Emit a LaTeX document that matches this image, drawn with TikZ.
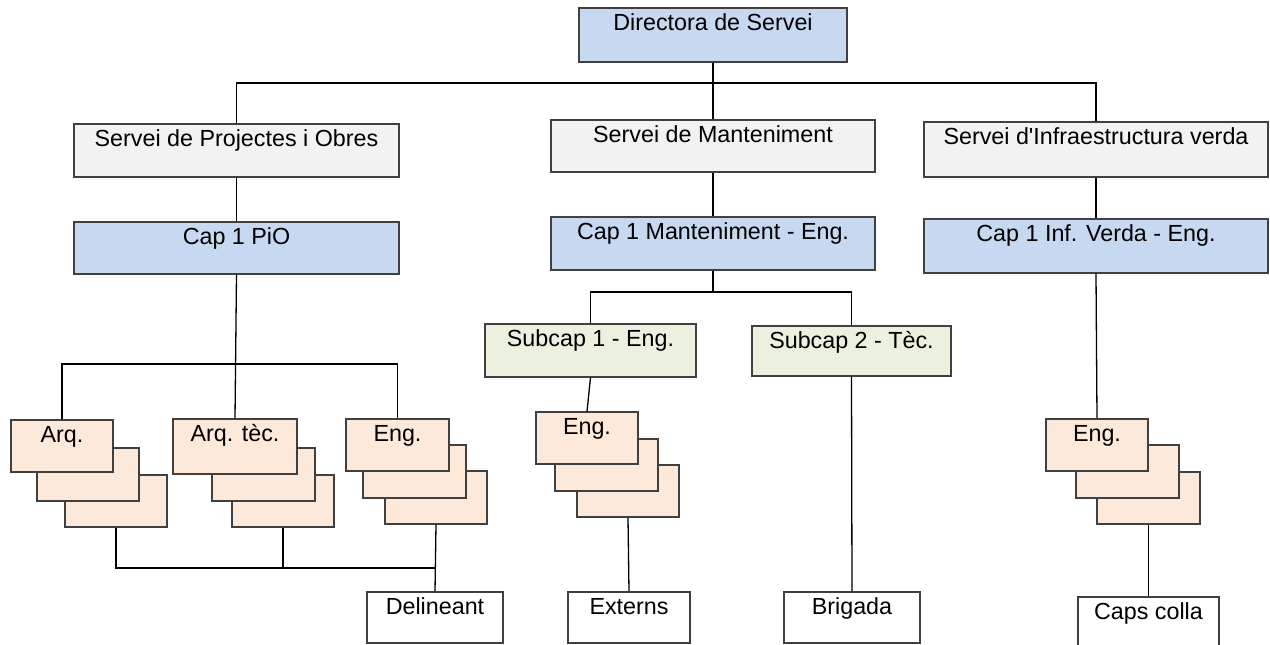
\documentclass[tikz,border=0pt]{standalone}
\usepackage{fontspec}
\setmainfont{Liberation Sans}
\usetikzlibrary{fit,calc}
\definecolor{bluefill}{RGB}{198,217,240}
\definecolor{greyfill}{RGB}{242,242,242}
\definecolor{greenfill}{RGB}{235,241,222}
\definecolor{peachfill}{RGB}{253,233,217}
\definecolor{edgecol}{RGB}{64,64,64}
\tikzset{
  boxbase/.style={draw=edgecol, line width=1.1pt, inner sep=0pt, rectangle},
  bluebox/.style={boxbase, fill=bluefill},
  greybox/.style={boxbase, fill=greyfill},
  greenbox/.style={boxbase, fill=greenfill},
  peachbox/.style={boxbase, fill=peachfill},
  whitebox/.style={boxbase, fill=white},
  lab/.style={anchor=base, inner sep=0pt, font=\fontsize{23.3}{28}\selectfont},
  conn/.style={draw=black, line width=1.3pt}
}
\newcommand\orgbox[7]{%
  \node[#6, fit={(#2,#3) (#4,#5)}] (#1) {};
  \node[lab] (#1-t) at ($(#1.north)+(0,23)$) {#7};}
\begin{document}
\begin{tikzpicture}[x=1pt,y=-1pt]
\useasboundingbox (0,0) rectangle (1270,645);
\clip (0,0) rectangle (1270,645);
\fill[white] (0,0) rectangle (1270,645);

% top level
\orgbox{dir}{579}{8}{847}{62}{bluebox}{Directora de Servei}
\orgbox{spo}{74}{124}{399}{177}{greybox}{Servei de Projectes i Obres}
\orgbox{sman}{551}{120}{875}{172}{greybox}{Servei de Manteniment}
\orgbox{sinf}{924}{122}{1268}{177}{greybox}{Servei d\textquotesingle Infraestructura verda}
\orgbox{cpio}{74}{222}{399}{274}{bluebox}{Cap 1 PiO}
\orgbox{cman}{551}{217}{875}{270}{bluebox}{Cap 1 Manteniment - Eng.}
\orgbox{cinf}{924}{219}{1268}{273}{bluebox}{Cap 1 Inf. Verda - Eng.}
\orgbox{sub1}{485}{324}{696}{377}{greenbox}{Subcap 1 - Eng.}
\orgbox{sub2}{752}{326}{951}{376}{greenbox}{Subcap 2 - Tèc.}

% stacks PiO
\orgbox{arq3}{65}{475}{167}{527}{peachbox}{}
\orgbox{arq2}{37}{448}{139}{501}{peachbox}{}
\orgbox{arq1}{11}{420}{113}{472}{peachbox}{Arq.}
\orgbox{tec3}{232}{475}{334}{527}{peachbox}{}
\orgbox{tec2}{212}{448}{315}{501}{peachbox}{}
\orgbox{tec1}{173}{419}{297}{474}{peachbox}{Arq. tèc.}
\orgbox{eng3}{385}{471}{487}{524}{peachbox}{}
\orgbox{eng2}{363}{445}{466}{498}{peachbox}{}
\orgbox{eng1}{346}{419}{449}{471}{peachbox}{Eng.}

% stack Manteniment
\orgbox{meng3}{577}{465}{679}{517}{peachbox}{}
\orgbox{meng2}{555}{439}{658}{491}{peachbox}{}
\orgbox{meng1}{536}{412}{638}{464}{peachbox}{Eng.}

% stack Inf verda
\orgbox{ieng3}{1097}{472}{1200}{524}{peachbox}{}
\orgbox{ieng2}{1076}{445}{1179}{498}{peachbox}{}
\orgbox{ieng1}{1046}{419}{1148}{471}{peachbox}{Eng.}

% bottom boxes
\orgbox{del}{367}{592}{503}{643}{whitebox}{Delineant}
\orgbox{ext}{568}{592}{690}{643}{whitebox}{Externs}
\orgbox{bri}{784}{592}{920}{643}{whitebox}{Brigada}
\orgbox{caps}{1078}{597}{1219}{660}{whitebox}{Caps colla}

% connectors
\coordinate (hub) at (713,83);
\coordinate (pb) at (237,364);
\coordinate (mb) at (713,292);
\coordinate (bl) at (435,568);

\draw[conn] (dir.south) -- (sman.north);
\draw[conn] (spo.north) -- (spo.north |- hub) -- (sinf.north |- hub) -- (sinf.north);
\draw[conn] (spo.south) -- (cpio.north);
\draw[conn] (sman.south) -- (cman.north);
\draw[conn] (sinf.south) -- (cinf.north);

\draw[conn] (cpio.south) -- (tec1.north);
\draw[conn] (arq1.north) -- (arq1.north |- pb) -- (eng1.north |- pb) -- (eng1.north);

\draw[conn] (cman.south) -- (mb);
\draw[conn] (sub1.north) -- (sub1.north |- mb) -- (sub2.north |- mb) -- (sub2.north);
\draw[conn] (sub1.south) -- (meng1.north);
\draw[conn] (meng3.south) -- (ext.north);
\draw[conn] (sub2.south) -- (bri.north);

\draw[conn] (cinf.south) -- (ieng1.north);
\draw[conn] (ieng3.south) -- (caps.north);

\draw[conn] (eng3.south) -- (del.north);
\draw[conn] (arq3.south) -- (arq3.south |- bl) -- (eng3.south |- bl);
\draw[conn] (tec3.south) -- (tec3.south |- bl);
\end{tikzpicture}
\end{document}
